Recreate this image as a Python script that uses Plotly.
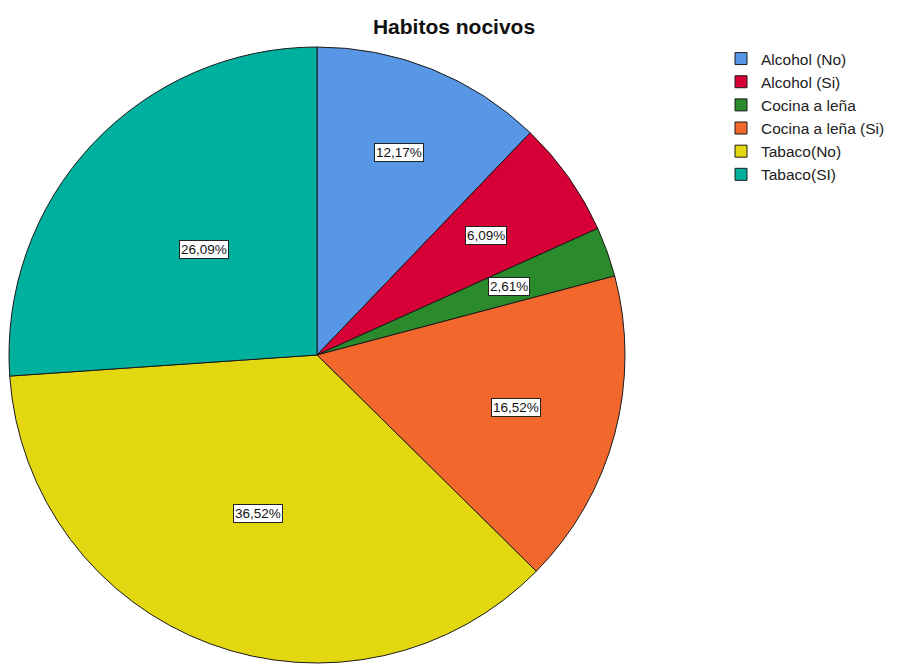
import math
import plotly.graph_objects as go

# Categories and their shares (percent of respondents)
categories = ["Alcohol (No)", "Alcohol (Si)", "Cocina a leña",
              "Cocina a leña (Si)", "Tabaco(No)", "Tabaco(SI)"]
percentages = [12.17, 6.09, 2.61, 16.52, 36.52, 26.09]

colors = ["#5897E6", "#D60036", "#2B8A2B", "#F2682C", "#E3D80F", "#00B09E"]
# distance of each value label from the centre, as a fraction of the radius
label_radius = [0.71, 0.67, 0.66, 0.67, 0.55, 0.50]

W, H = 899, 665
cx, cy, R = 317, 355, 308  # pie centre and radius in pixels

fig = go.Figure(go.Pie(
    labels=categories,
    values=percentages,
    sort=False,
    direction="clockwise",
    rotation=0,
    marker=dict(colors=colors, line=dict(color="#1a1a1a", width=1)),
    textinfo="none",
    hoverinfo="label+value",
    domain=dict(x=[(cx - R) / W, (cx + R) / W],
                y=[max(0, (H - (cy + R)) / H), (H - (cy - R)) / H]),
))

# boxed value labels placed at the middle angle of each slice
total = sum(percentages)
cum = 0.0
for val, frac in zip(percentages, label_radius):
    mid = (cum + val / 2) / total * 2 * math.pi
    cum += val
    px = cx + frac * R * math.sin(mid)
    py = cy - frac * R * math.cos(mid)
    fig.add_annotation(
        x=px / W, y=1 - py / H, xref="paper", yref="paper",
        xanchor="center", yanchor="middle",
        text=f"{val:.2f}%".replace(".", ","),
        showarrow=False,
        font=dict(family="Liberation Sans, Arial, sans-serif", size=13.5, color="#111"),
        bgcolor="white", bordercolor="#222", borderwidth=1, borderpad=1,
    )

fig.update_layout(
    width=W, height=H,
    margin=dict(l=0, r=0, t=0, b=0),
    paper_bgcolor="white",
    plot_bgcolor="white",
    separators=",.",
    title=dict(text="<b>Habitos nocivos</b>", x=454 / W, xanchor="center",
               y=1 - 27 / H, yanchor="middle",
               font=dict(family="Liberation Sans, Arial, sans-serif", size=21, color="#111")),
    legend=dict(x=721 / W, y=1 - 42 / H, xanchor="left", yanchor="top",
                font=dict(family="Liberation Sans, Arial, sans-serif", size=15.5, color="#222"),
                itemwidth=30, tracegroupgap=0),
    showlegend=True,
)

fig.write_html("out.html")
